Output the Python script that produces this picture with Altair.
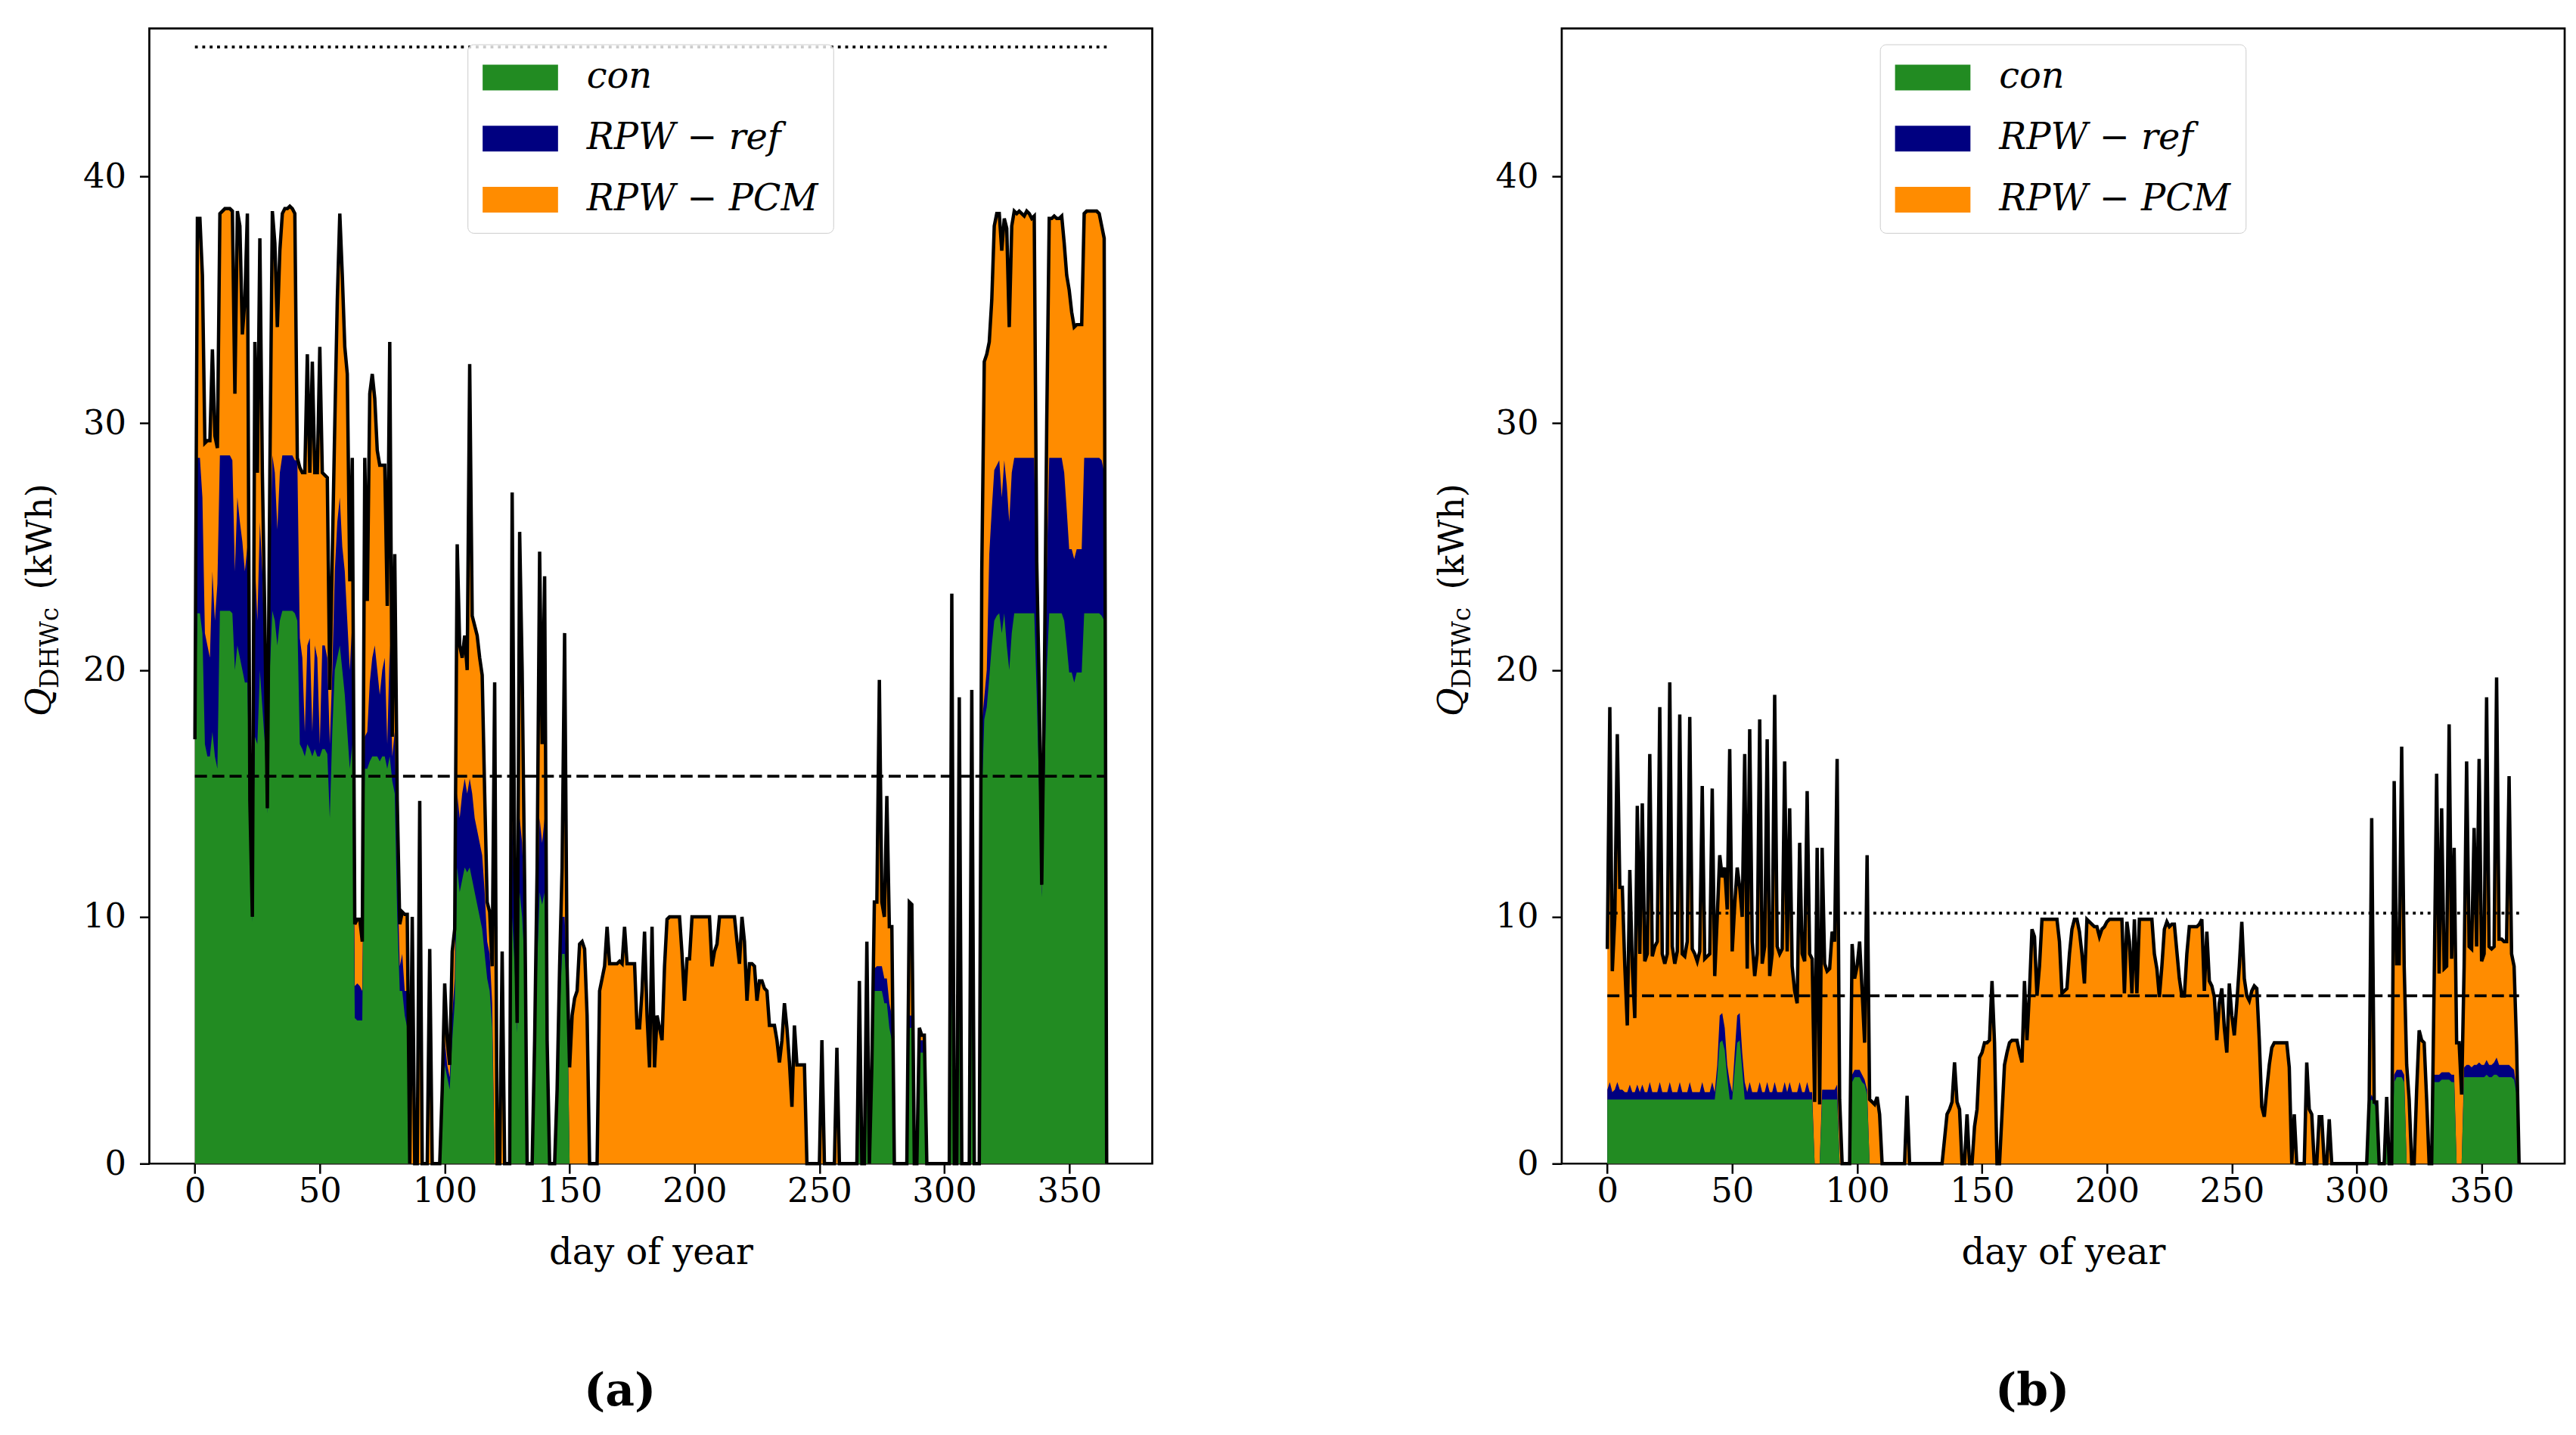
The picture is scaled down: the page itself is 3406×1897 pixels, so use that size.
import altair as alt
import pandas as pd

FONT = "DejaVu Serif"
SERIES = ["con", "RPW − ref", "RPW − PCM"]
COLORS = ["#228B22", "#000080", "#FF8C00"]
X_TICKS = [0, 50, 100, 150, 200, 250, 300, 350]
Y_TICKS = [0, 10, 20, 30, 40]
DAYS = list(range(366))

# ---------------- panel (a) ----------------
A_PCM = [
    17.2, 38.3, 38.3, 36.0, 29.2, 29.3, 29.3, 33.0, 29.5, 29.0,   # 0
    38.5, 38.6, 38.7, 38.7, 38.7, 38.6, 31.2, 38.6, 38.0, 33.6,   # 10
    35.0, 38.5, 14.7, 10.0, 33.3, 28.0, 37.5, 28.0, 22.0, 14.4,   # 20
    28.0, 38.6, 37.3, 33.9, 37.0, 38.5, 38.7, 38.7, 38.8, 38.7,   # 30
    38.5, 28.6, 28.2, 28.0, 28.0, 32.8, 28.0, 32.5, 28.0, 28.0,   # 40
    33.1, 28.0, 27.9, 27.8, 19.2, 24.7, 30.0, 35.0, 38.5, 36.0,   # 50
    33.1, 32.0, 23.6, 28.6, 9.7, 9.9, 9.9, 9.0, 28.6, 22.8,       # 60
    31.2, 32.0, 31.0, 28.9, 28.3, 28.3, 28.3, 22.6, 33.3, 17.3,   # 70
    24.7, 14.7, 9.7, 10.2, 10.1, 10.1, 0.0, 10.0, 0.0, 0.0,       # 80
    14.7, 0.0, 0.0, 0.0, 8.7, 0.0, 0.0, 0.0, 0.0, 3.0,            # 90
    7.3, 5.0, 4.0, 8.6, 9.5, 25.1, 21.0, 20.5, 21.4, 20.0,        # 100
    32.4, 22.2, 21.8, 21.4, 20.5, 19.8, 15.0, 10.6, 10.2, 8.0,    # 110
    19.5, 0.0, 0.0, 8.6, 0.0, 0.0, 0.0, 27.2, 12.0, 5.7,          # 120
    25.6, 20.0, 11.3, 0.0, 0.0, 0.0, 5.0, 12.0, 24.8, 17.0,       # 130
    23.8, 5.0, 0.0, 0.0, 0.0, 3.0, 8.0, 12.0, 21.5, 8.0,          # 140
    3.9, 6.0, 6.7, 7.0, 8.9, 9.0, 8.7, 6.0, 0.0, 0.0,             # 150
    0.0, 0.0, 7.0, 7.5, 8.0, 9.6, 8.1, 8.1, 8.1, 8.1,             # 160
    8.2, 8.1, 9.6, 8.1, 8.1, 8.1, 8.1, 5.5, 5.5, 7.0,             # 170
    9.4, 6.0, 3.9, 9.6, 3.9, 6.0, 5.5, 5.0, 8.0, 9.9,             # 180
    10.0, 10.0, 10.0, 10.0, 10.0, 8.5, 6.6, 8.3, 8.3, 10.0,       # 190
    10.0, 10.0, 10.0, 10.0, 10.0, 10.0, 10.0, 8.0, 8.6, 8.9,      # 200
    10.0, 10.0, 10.0, 10.0, 10.0, 10.0, 10.0, 9.0, 8.1, 10.0,     # 210
    9.0, 6.6, 8.1, 8.1, 8.0, 6.6, 7.4, 7.4, 7.1, 7.0,             # 220
    5.6, 5.6, 5.6, 5.0, 4.1, 5.0, 6.5, 5.5, 4.1, 2.3,             # 230
    5.6, 4.0, 4.0, 4.0, 4.0, 0.0, 0.0, 0.0, 0.0, 0.0,             # 240
    0.0, 5.0, 0.0, 0.0, 0.0, 0.0, 0.0, 4.7, 0.0, 0.0,             # 250
    0.0, 0.0, 0.0, 0.0, 0.0, 0.0, 7.4, 0.0, 0.0, 9.0,             # 260
    0.0, 4.0, 10.6, 10.6, 19.6, 10.6, 10.0, 14.9, 9.6, 9.6,       # 270
    0.0, 0.0, 0.0, 0.0, 0.0, 0.0, 10.6, 10.5, 0.0, 0.0,           # 280
    5.5, 5.2, 5.2, 0.0, 0.0, 0.0, 0.0, 0.0, 0.0, 0.0,             # 290
    0.0, 0.0, 0.0, 23.1, 0.0, 0.0, 18.9, 0.0, 0.0, 0.0,           # 300
    0.0, 19.2, 0.0, 0.0, 0.0, 24.0, 32.5, 32.8, 33.3, 35.0,       # 310
    38.0, 38.5, 38.5, 37.0, 38.3, 37.9, 33.9, 38.0, 38.6, 38.5,   # 320
    38.6, 38.5, 38.4, 38.6, 38.5, 38.3, 38.4, 24.4, 19.2, 11.3,   # 330
    19.0, 30.0, 38.3, 38.3, 38.4, 38.3, 38.3, 38.4, 37.3, 36.0,   # 340
    35.4, 34.5, 33.9, 34.0, 34.0, 34.0, 38.5, 38.6, 38.6, 38.6,   # 350
    38.6, 38.6, 38.5, 38.0, 37.5, 0.0,                            # 360
]
A_REF = [
    17.2, 28.6, 28.6, 27.0, 21.5, 21.0, 20.5, 24.0, 22.0, 23.5,   # 0
    28.7, 28.7, 28.7, 28.7, 28.7, 28.5, 24.0, 27.0, 26.0, 25.2,   # 10
    24.0, 25.0, 14.5, 9.9, 24.4, 22.0, 26.0, 24.0, 20.0, 14.3,    # 20
    24.0, 28.7, 28.0, 25.7, 28.0, 28.7, 28.7, 28.7, 28.7, 28.7,   # 30
    28.5, 28.5, 21.3, 20.5, 17.5, 21.0, 21.3, 17.5, 21.0, 20.5,   # 40
    17.0, 21.0, 21.0, 20.5, 17.0, 20.0, 24.0, 26.0, 27.0, 25.0,   # 50
    24.0, 22.0, 20.0, 22.0, 7.2, 7.3, 7.2, 7.0, 17.3, 17.5,       # 60
    19.5, 20.5, 21.0, 20.0, 19.0, 20.0, 20.5, 17.0, 21.0, 16.5,   # 70
    17.5, 12.0, 8.0, 8.5, 7.0, 7.0, 0.0, 0.0, 0.0, 0.0,           # 80
    0.0, 0.0, 0.0, 0.0, 0.0, 0.0, 0.0, 0.0, 0.0, 2.5,             # 90
    5.0, 4.0, 3.5, 6.0, 7.5, 15.0, 14.0, 15.0, 15.6, 15.0,        # 100
    15.6, 15.0, 14.0, 13.5, 13.0, 12.5, 11.0, 9.0, 8.5, 6.5,      # 110
    0.0, 0.0, 0.0, 0.0, 0.0, 0.0, 0.0, 14.0, 10.0, 5.5,           # 120
    14.0, 13.0, 10.0, 0.0, 0.0, 0.0, 4.5, 10.0, 14.0, 13.0,       # 130
    14.0, 4.5, 0.0, 0.0, 0.0, 2.5, 7.0, 10.0, 10.0, 7.5,          # 140
    0.0, 0.0, 0.0, 0.0, 0.0, 0.0, 0.0, 0.0, 0.0, 0.0,             # 150
    0.0, 0.0, 0.0, 0.0, 0.0, 0.0, 0.0, 0.0, 0.0, 0.0,             # 160
    0.0, 0.0, 0.0, 0.0, 0.0, 0.0, 0.0, 0.0, 0.0, 0.0,             # 170
    0.0, 0.0, 0.0, 0.0, 0.0, 0.0, 0.0, 0.0, 0.0, 0.0,             # 180
    0.0, 0.0, 0.0, 0.0, 0.0, 0.0, 0.0, 0.0, 0.0, 0.0,             # 190
    0.0, 0.0, 0.0, 0.0, 0.0, 0.0, 0.0, 0.0, 0.0, 0.0,             # 200
    0.0, 0.0, 0.0, 0.0, 0.0, 0.0, 0.0, 0.0, 0.0, 0.0,             # 210
    0.0, 0.0, 0.0, 0.0, 0.0, 0.0, 0.0, 0.0, 0.0, 0.0,             # 220
    0.0, 0.0, 0.0, 0.0, 0.0, 0.0, 0.0, 0.0, 0.0, 0.0,             # 230
    0.0, 0.0, 0.0, 0.0, 0.0, 0.0, 0.0, 0.0, 0.0, 0.0,             # 240
    0.0, 0.0, 0.0, 0.0, 0.0, 0.0, 0.0, 0.0, 0.0, 0.0,             # 250
    0.0, 0.0, 0.0, 0.0, 0.0, 0.0, 6.5, 0.0, 0.0, 7.0,             # 260
    0.0, 3.5, 7.9, 8.0, 8.0, 8.0, 7.5, 7.5, 6.5, 6.0,             # 270
    0.0, 0.0, 0.0, 0.0, 0.0, 0.0, 6.0, 6.0, 0.0, 0.0,             # 280
    5.0, 5.0, 5.0, 0.0, 0.0, 0.0, 0.0, 0.0, 0.0, 0.0,             # 290
    0.0, 0.0, 0.0, 8.0, 0.0, 0.0, 8.0, 0.0, 0.0, 0.0,             # 300
    0.0, 8.0, 0.0, 0.0, 0.0, 17.8, 18.9, 20.0, 24.7, 26.5,        # 310
    28.1, 28.3, 28.5, 27.0, 28.5, 27.5, 26.0, 28.0, 28.6, 28.6,   # 320
    28.6, 28.6, 28.6, 28.6, 28.6, 28.6, 28.6, 22.0, 17.0, 11.0,   # 330
    17.0, 24.0, 28.6, 28.6, 28.6, 28.6, 28.6, 28.6, 28.0, 26.5,   # 340
    24.9, 24.9, 24.5, 24.9, 24.9, 24.9, 28.6, 28.6, 28.6, 28.6,   # 350
    28.6, 28.6, 28.6, 28.5, 28.0, 0.0,                            # 360
]
A_CON = [
    17.2, 22.3, 22.3, 21.5, 17.0, 16.5, 16.5, 17.5, 16.5, 16.0,   # 0
    22.4, 22.4, 22.4, 22.4, 22.4, 22.3, 20.0, 21.0, 20.5, 20.0,   # 10
    19.5, 19.5, 14.0, 9.8, 17.3, 17.0, 20.0, 18.5, 17.0, 14.2,    # 20
    20.0, 22.4, 22.0, 21.0, 22.0, 22.4, 22.4, 22.4, 22.4, 22.4,   # 30
    22.3, 22.0, 17.0, 16.8, 16.5, 17.0, 16.8, 16.5, 16.8, 16.5,   # 40
    16.5, 16.8, 16.8, 16.6, 14.0, 17.5, 20.0, 20.5, 21.0, 20.0,   # 50
    19.0, 17.5, 16.0, 17.0, 5.9, 5.8, 5.8, 5.8, 16.0, 16.0,       # 60
    16.3, 16.5, 16.5, 16.5, 16.3, 16.5, 16.5, 16.0, 16.5, 15.5,   # 70
    15.0, 10.0, 7.0, 7.0, 6.0, 5.5, 0.0, 0.0, 0.0, 0.0,           # 80
    0.0, 0.0, 0.0, 0.0, 0.0, 0.0, 0.0, 0.0, 0.0, 2.0,             # 90
    4.0, 3.5, 3.0, 5.0, 6.5, 12.0, 11.0, 11.5, 12.0, 11.8,        # 100
    12.0, 11.5, 11.0, 10.5, 10.0, 9.5, 8.5, 7.5, 7.0, 5.5,        # 110
    0.0, 0.0, 0.0, 0.0, 0.0, 0.0, 0.0, 10.0, 8.0, 5.3,            # 120
    11.0, 10.0, 8.0, 0.0, 0.0, 0.0, 4.0, 8.0, 11.0, 10.5,         # 130
    11.0, 4.0, 0.0, 0.0, 0.0, 2.0, 6.0, 8.5, 8.5, 7.0,            # 140
    0.0, 0.0, 0.0, 0.0, 0.0, 0.0, 0.0, 0.0, 0.0, 0.0,             # 150
    0.0, 0.0, 0.0, 0.0, 0.0, 0.0, 0.0, 0.0, 0.0, 0.0,             # 160
    0.0, 0.0, 0.0, 0.0, 0.0, 0.0, 0.0, 0.0, 0.0, 0.0,             # 170
    0.0, 0.0, 0.0, 0.0, 0.0, 0.0, 0.0, 0.0, 0.0, 0.0,             # 180
    0.0, 0.0, 0.0, 0.0, 0.0, 0.0, 0.0, 0.0, 0.0, 0.0,             # 190
    0.0, 0.0, 0.0, 0.0, 0.0, 0.0, 0.0, 0.0, 0.0, 0.0,             # 200
    0.0, 0.0, 0.0, 0.0, 0.0, 0.0, 0.0, 0.0, 0.0, 0.0,             # 210
    0.0, 0.0, 0.0, 0.0, 0.0, 0.0, 0.0, 0.0, 0.0, 0.0,             # 220
    0.0, 0.0, 0.0, 0.0, 0.0, 0.0, 0.0, 0.0, 0.0, 0.0,             # 230
    0.0, 0.0, 0.0, 0.0, 0.0, 0.0, 0.0, 0.0, 0.0, 0.0,             # 240
    0.0, 0.0, 0.0, 0.0, 0.0, 0.0, 0.0, 0.0, 0.0, 0.0,             # 250
    0.0, 0.0, 0.0, 0.0, 0.0, 0.0, 6.0, 0.0, 0.0, 6.0,             # 260
    0.0, 3.0, 7.0, 7.0, 7.0, 7.0, 6.5, 6.5, 5.5, 5.0,             # 270
    0.0, 0.0, 0.0, 0.0, 0.0, 0.0, 5.5, 5.5, 0.0, 0.0,             # 280
    4.5, 4.5, 4.5, 0.0, 0.0, 0.0, 0.0, 0.0, 0.0, 0.0,             # 290
    0.0, 0.0, 0.0, 7.0, 0.0, 0.0, 7.0, 0.0, 0.0, 0.0,             # 300
    0.0, 7.0, 0.0, 0.0, 0.0, 14.7, 18.0, 18.5, 19.7, 21.0,        # 310
    22.0, 22.2, 22.3, 21.5, 22.3, 21.0, 20.0, 21.5, 22.3, 22.3,   # 320
    22.3, 22.3, 22.3, 22.3, 22.3, 22.3, 22.3, 19.0, 15.0, 10.8,   # 330
    15.0, 20.0, 22.3, 22.3, 22.3, 22.3, 22.3, 22.3, 22.0, 21.0,   # 340
    19.9, 19.9, 19.5, 19.9, 19.9, 19.9, 22.3, 22.3, 22.3, 22.3,   # 350
    22.3, 22.3, 22.3, 22.2, 22.0, 0.0,                            # 360
]
A_DASHED = 15.7
A_DOTTED = 45.25

# ---------------- panel (b) ----------------
B_PCM = [
    8.7, 18.5, 7.8, 10.0, 17.4, 11.2, 11.2, 8.0, 5.6, 11.9,       # 0
    8.0, 5.9, 14.5, 8.5, 14.6, 8.2, 8.5, 16.6, 8.4, 8.8,          # 10
    9.0, 18.5, 8.5, 8.1, 8.5, 19.5, 8.8, 8.1, 8.6, 18.2,          # 20
    8.5, 8.4, 9.0, 18.1, 8.7, 8.5, 8.2, 8.6, 15.3, 8.3,           # 30
    8.4, 8.5, 15.2, 7.6, 10.0, 12.5, 11.6, 12.0, 10.3, 16.8,      # 40
    8.6, 10.5, 12.0, 11.2, 10.0, 16.6, 7.9, 17.6, 9.0, 7.6,       # 50
    8.5, 18.0, 8.1, 8.8, 17.2, 7.6, 8.5, 19.0, 8.8, 8.5,          # 60
    8.7, 16.3, 8.6, 14.4, 8.0, 7.0, 6.5, 13.0, 8.5, 8.2,          # 70
    15.1, 8.5, 8.3, 2.5, 12.8, 2.4, 12.8, 8.1, 7.8, 7.9,          # 80
    9.4, 9.0, 16.4, 2.6, 0.0, 0.0, 0.0, 0.0, 8.9, 7.5,            # 90
    8.0, 9.0, 7.0, 4.9, 12.5, 2.6, 2.5, 2.4, 2.7, 2.0,            # 100
    0.0, 0.0, 0.0, 0.0, 0.0, 0.0, 0.0, 0.0, 0.0, 0.0,             # 110
    2.75, 0.0, 0.0, 0.0, 0.0, 0.0, 0.0, 0.0, 0.0, 0.0,            # 120
    0.0, 0.0, 0.0, 0.0, 0.0, 1.0, 2.0, 2.2, 2.5, 4.1,             # 130
    2.5, 2.2, 0.0, 0.0, 2.0, 0.0, 0.0, 1.5, 2.2, 4.3,             # 140
    4.5, 4.9, 4.9, 5.0, 7.4, 4.9, 0.0, 0.0, 2.0, 4.0,             # 150
    4.5, 4.9, 5.0, 5.0, 5.0, 4.5, 4.1, 7.4, 5.0, 7.0,             # 160
    9.5, 9.2, 6.8, 8.0, 9.9, 9.9, 9.9, 9.9, 9.9, 9.9,             # 170
    9.9, 9.0, 6.9, 7.0, 7.1, 8.5, 9.5, 9.9, 9.9, 9.4,             # 180
    8.5, 7.3, 9.9, 9.8, 9.7, 9.6, 9.6, 9.2, 9.5, 9.6,             # 190
    9.8, 9.9, 9.9, 9.9, 9.9, 9.9, 9.9, 6.9, 9.8, 9.0,             # 200
    6.9, 9.9, 6.9, 9.9, 9.9, 9.9, 9.9, 9.9, 9.9, 8.5,             # 210
    7.9, 6.75, 8.0, 9.5, 9.8, 9.6, 9.7, 9.7, 8.6, 7.5,            # 220
    6.8, 6.8, 8.5, 9.6, 9.6, 9.6, 9.6, 9.7, 9.9, 7.0,             # 230
    9.4, 7.4, 7.2, 6.75, 5.0, 6.5, 7.1, 5.5, 4.5, 7.3,            # 240
    6.0, 5.2, 6.5, 8.0, 9.8, 7.5, 6.8, 6.6, 7.0, 7.2,             # 250
    7.1, 5.0, 2.3, 1.9, 3.0, 4.0, 4.7, 4.9, 4.9, 4.9,             # 260
    4.9, 4.9, 4.9, 3.9, 0.0, 2.0, 0.0, 0.0, 0.0, 0.0,             # 270
    4.1, 2.2, 2.0, 0.0, 0.0, 1.9, 1.9, 0.0, 0.0, 1.8,             # 280
    0.0, 0.0, 0.0, 0.0, 0.0, 0.0, 0.0, 0.0, 0.0, 0.0,             # 290
    0.0, 0.0, 0.0, 0.0, 0.0, 2.6, 14.0, 2.5, 2.5, 0.0,            # 300
    0.0, 0.0, 2.7, 0.0, 0.0, 15.5, 8.1, 8.1, 16.9, 8.0,           # 310
    4.0, 2.6, 0.0, 0.0, 3.0, 5.4, 5.0, 4.9, 2.6, 0.0,             # 320
    0.0, 7.3, 15.8, 7.7, 14.4, 7.9, 8.0, 17.8, 8.3, 12.8,         # 330
    4.9, 4.9, 2.8, 8.0, 16.3, 8.8, 8.7, 13.6, 8.8, 16.4,          # 340
    8.2, 8.5, 18.9, 8.8, 8.7, 8.8, 19.7, 9.1, 9.1, 9.0,           # 350
    9.0, 15.7, 8.5, 8.0, 4.8, 0.0,                                # 360
]
B_REF = [
    3.0, 3.3, 2.9, 3.0, 3.3, 3.0, 3.0, 2.9, 2.9, 3.2,             # 0
    2.9, 2.9, 3.2, 2.9, 3.2, 2.9, 2.9, 3.3, 2.9, 2.9,             # 10
    2.9, 3.3, 2.9, 2.9, 2.9, 3.3, 2.9, 2.9, 2.9, 3.3,             # 20
    2.9, 2.9, 2.9, 3.3, 2.9, 2.9, 2.9, 2.9, 3.3, 2.9,             # 30
    2.9, 2.9, 3.3, 2.9, 4.0, 6.0, 6.1, 5.5, 4.0, 3.3,             # 40
    2.9, 4.5, 6.0, 6.1, 4.5, 3.3, 2.9, 3.3, 2.9, 2.9,             # 50
    2.9, 3.3, 2.9, 2.9, 3.3, 2.9, 2.9, 3.3, 2.9, 2.9,             # 60
    2.9, 3.3, 2.9, 3.3, 2.9, 2.9, 2.9, 3.3, 2.9, 2.9,             # 70
    3.3, 2.9, 2.9, 0.0, 0.0, 0.0, 3.0, 3.0, 3.0, 3.0,             # 80
    3.0, 3.0, 3.2, 0.0, 0.0, 0.0, 0.0, 0.0, 3.6, 3.8,             # 90
    3.8, 3.8, 3.6, 3.4, 3.0, 0.0, 0.0, 0.0, 0.0, 0.0,             # 100
    0.0, 0.0, 0.0, 0.0, 0.0, 0.0, 0.0, 0.0, 0.0, 0.0,             # 110
    0.0, 0.0, 0.0, 0.0, 0.0, 0.0, 0.0, 0.0, 0.0, 0.0,             # 120
    0.0, 0.0, 0.0, 0.0, 0.0, 0.0, 0.0, 0.0, 0.0, 0.0,             # 130
    0.0, 0.0, 0.0, 0.0, 0.0, 0.0, 0.0, 0.0, 0.0, 0.0,             # 140
    0.0, 0.0, 0.0, 0.0, 0.0, 0.0, 0.0, 0.0, 0.0, 0.0,             # 150
    0.0, 0.0, 0.0, 0.0, 0.0, 0.0, 0.0, 0.0, 0.0, 0.0,             # 160
    0.0, 0.0, 0.0, 0.0, 0.0, 0.0, 0.0, 0.0, 0.0, 0.0,             # 170
    0.0, 0.0, 0.0, 0.0, 0.0, 0.0, 0.0, 0.0, 0.0, 0.0,             # 180
    0.0, 0.0, 0.0, 0.0, 0.0, 0.0, 0.0, 0.0, 0.0, 0.0,             # 190
    0.0, 0.0, 0.0, 0.0, 0.0, 0.0, 0.0, 0.0, 0.0, 0.0,             # 200
    0.0, 0.0, 0.0, 0.0, 0.0, 0.0, 0.0, 0.0, 0.0, 0.0,             # 210
    0.0, 0.0, 0.0, 0.0, 0.0, 0.0, 0.0, 0.0, 0.0, 0.0,             # 220
    0.0, 0.0, 0.0, 0.0, 0.0, 0.0, 0.0, 0.0, 0.0, 0.0,             # 230
    0.0, 0.0, 0.0, 0.0, 0.0, 0.0, 0.0, 0.0, 0.0, 0.0,             # 240
    0.0, 0.0, 0.0, 0.0, 0.0, 0.0, 0.0, 0.0, 0.0, 0.0,             # 250
    0.0, 0.0, 0.0, 0.0, 0.0, 0.0, 0.0, 0.0, 0.0, 0.0,             # 260
    0.0, 0.0, 0.0, 0.0, 0.0, 0.0, 0.0, 0.0, 0.0, 0.0,             # 270
    0.0, 0.0, 0.0, 0.0, 0.0, 0.0, 0.0, 0.0, 0.0, 0.0,             # 280
    0.0, 0.0, 0.0, 0.0, 0.0, 0.0, 0.0, 0.0, 0.0, 0.0,             # 290
    0.0, 0.0, 0.0, 0.0, 0.0, 2.6, 2.8, 2.5, 2.4, 0.0,             # 300
    0.0, 0.0, 2.7, 0.0, 0.0, 3.6, 3.8, 3.8, 3.8, 3.6,             # 310
    0.0, 0.0, 0.0, 0.0, 0.0, 0.0, 0.0, 0.0, 0.0, 0.0,             # 320
    0.0, 3.6, 3.6, 3.6, 3.7, 3.7, 3.7, 3.7, 3.6, 3.6,             # 330
    0.0, 0.0, 0.0, 3.9, 4.0, 4.0, 3.9, 4.0, 4.0, 4.1,             # 340
    4.0, 4.0, 4.2, 4.0, 4.0, 4.1, 4.3, 4.0, 4.0, 4.0,             # 350
    4.0, 4.0, 3.9, 3.8, 3.0, 0.0,                                 # 360
]
B_CON = [
    2.6, 2.6, 2.6, 2.6, 2.6, 2.6, 2.6, 2.6, 2.6, 2.6,             # 0
    2.6, 2.6, 2.6, 2.6, 2.6, 2.6, 2.6, 2.6, 2.6, 2.6,             # 10
    2.6, 2.6, 2.6, 2.6, 2.6, 2.6, 2.6, 2.6, 2.6, 2.6,             # 20
    2.6, 2.6, 2.6, 2.6, 2.6, 2.6, 2.6, 2.6, 2.6, 2.6,             # 30
    2.6, 2.6, 2.6, 2.6, 3.5, 4.9, 5.0, 4.6, 3.5, 2.6,             # 40
    2.6, 3.8, 4.9, 5.0, 3.8, 2.6, 2.6, 2.6, 2.6, 2.6,             # 50
    2.6, 2.6, 2.6, 2.6, 2.6, 2.6, 2.6, 2.6, 2.6, 2.6,             # 60
    2.6, 2.6, 2.6, 2.6, 2.6, 2.6, 2.6, 2.6, 2.6, 2.6,             # 70
    2.6, 2.6, 2.6, 0.0, 0.0, 0.0, 2.6, 2.6, 2.6, 2.6,             # 80
    2.6, 2.6, 2.6, 0.0, 0.0, 0.0, 0.0, 0.0, 3.3, 3.5,             # 90
    3.5, 3.5, 3.3, 3.2, 2.8, 0.0, 0.0, 0.0, 0.0, 0.0,             # 100
    0.0, 0.0, 0.0, 0.0, 0.0, 0.0, 0.0, 0.0, 0.0, 0.0,             # 110
    0.0, 0.0, 0.0, 0.0, 0.0, 0.0, 0.0, 0.0, 0.0, 0.0,             # 120
    0.0, 0.0, 0.0, 0.0, 0.0, 0.0, 0.0, 0.0, 0.0, 0.0,             # 130
    0.0, 0.0, 0.0, 0.0, 0.0, 0.0, 0.0, 0.0, 0.0, 0.0,             # 140
    0.0, 0.0, 0.0, 0.0, 0.0, 0.0, 0.0, 0.0, 0.0, 0.0,             # 150
    0.0, 0.0, 0.0, 0.0, 0.0, 0.0, 0.0, 0.0, 0.0, 0.0,             # 160
    0.0, 0.0, 0.0, 0.0, 0.0, 0.0, 0.0, 0.0, 0.0, 0.0,             # 170
    0.0, 0.0, 0.0, 0.0, 0.0, 0.0, 0.0, 0.0, 0.0, 0.0,             # 180
    0.0, 0.0, 0.0, 0.0, 0.0, 0.0, 0.0, 0.0, 0.0, 0.0,             # 190
    0.0, 0.0, 0.0, 0.0, 0.0, 0.0, 0.0, 0.0, 0.0, 0.0,             # 200
    0.0, 0.0, 0.0, 0.0, 0.0, 0.0, 0.0, 0.0, 0.0, 0.0,             # 210
    0.0, 0.0, 0.0, 0.0, 0.0, 0.0, 0.0, 0.0, 0.0, 0.0,             # 220
    0.0, 0.0, 0.0, 0.0, 0.0, 0.0, 0.0, 0.0, 0.0, 0.0,             # 230
    0.0, 0.0, 0.0, 0.0, 0.0, 0.0, 0.0, 0.0, 0.0, 0.0,             # 240
    0.0, 0.0, 0.0, 0.0, 0.0, 0.0, 0.0, 0.0, 0.0, 0.0,             # 250
    0.0, 0.0, 0.0, 0.0, 0.0, 0.0, 0.0, 0.0, 0.0, 0.0,             # 260
    0.0, 0.0, 0.0, 0.0, 0.0, 0.0, 0.0, 0.0, 0.0, 0.0,             # 270
    0.0, 0.0, 0.0, 0.0, 0.0, 0.0, 0.0, 0.0, 0.0, 0.0,             # 280
    0.0, 0.0, 0.0, 0.0, 0.0, 0.0, 0.0, 0.0, 0.0, 0.0,             # 290
    0.0, 0.0, 0.0, 0.0, 0.0, 2.5, 2.6, 2.4, 2.3, 0.0,             # 300
    0.0, 0.0, 2.6, 0.0, 0.0, 3.3, 3.5, 3.5, 3.5, 3.3,             # 310
    0.0, 0.0, 0.0, 0.0, 0.0, 0.0, 0.0, 0.0, 0.0, 0.0,             # 320
    0.0, 3.3, 3.3, 3.3, 3.4, 3.4, 3.4, 3.4, 3.3, 3.3,             # 330
    0.0, 0.0, 0.0, 3.5, 3.5, 3.5, 3.5, 3.5, 3.5, 3.5,             # 340
    3.5, 3.5, 3.6, 3.5, 3.5, 3.6, 3.6, 3.5, 3.5, 3.5,             # 350
    3.5, 3.5, 3.5, 3.4, 2.8, 0.0,                                 # 360
]
B_DASHED = 6.8
B_DOTTED = 10.15

W, H = 1330, 1505


def text_mark(txt, x, y, size, style="normal", weight="normal", angle=0,
              align="left", baseline="alphabetic"):
    return alt.Chart(pd.DataFrame({"t": [txt]})).mark_text(
        font=FONT, fontSize=size, fontStyle=style, fontWeight=weight,
        angle=angle, align=align, baseline=baseline, color="black"
    ).encode(x=alt.value(x), y=alt.value(y), text="t:N")


def panel(pcm, ref, con, dashed, dotted, caption):
    assert len(pcm) == len(ref) == len(con) == len(DAYS)
    df = pd.DataFrame({"day": DAYS, "pcm": pcm, "ref": ref, "con": con})
    xs = alt.Scale(domain=[-18.25, 383.25], nice=False, zero=False)
    ys = alt.Scale(domain=[0, 46], nice=False)
    xax = alt.Axis(values=X_TICKS, title="day of year", labelPadding=1,
                   titlePadding=36, format="d")
    yax = alt.Axis(values=Y_TICKS, title=None, labelPadding=18, format="d")
    cscale = alt.Scale(domain=SERIES, range=COLORS)
    legend = alt.Legend(
        title=None, orient="none", legendX=422, legendY=21,
        direction="vertical",
        symbolType="M-2.083,-0.708H2.083V0.708H-2.083Z",
        symbolSize=2304, symbolOffset=26, symbolStrokeWidth=0,
        symbolOpacity=1,
        labelFont=FONT, labelFontStyle="italic", labelFontSize=48,
        labelColor="black", labelOffset=64, labelLimit=0,
        padding=20, rowPadding=33,
        strokeColor="#cccccc", fillColor="rgba(255,255,255,0.8)",
        cornerRadius=8,
    )
    base = alt.Chart(df)

    def area(field, name):
        return base.transform_calculate(series=f"'{name}'").mark_area(
            opacity=1, strokeWidth=0
        ).encode(
            x=alt.X("day:Q", scale=xs, axis=xax),
            y=alt.Y(f"{field}:Q", scale=ys, axis=yax),
            color=alt.Color("series:N", scale=cscale, legend=legend),
        )

    outline = base.mark_line(color="black", strokeWidth=4.5).encode(
        x=alt.X("day:Q", scale=xs, axis=xax),
        y=alt.Y("pcm:Q", scale=ys, axis=yax),
    )
    hl = pd.DataFrame({"x0": [0], "x1": [365], "y_dash": [dashed], "y_dot": [dotted]})
    dash_rule = alt.Chart(hl).mark_rule(
        color="black", strokeWidth=3.8, strokeDash=[16, 7]
    ).encode(x="x0:Q", x2="x1:Q", y="y_dash:Q")
    dot_rule = alt.Chart(hl).mark_rule(
        color="black", strokeWidth=3.8, strokeDash=[3.8, 6]
    ).encode(x="x0:Q", x2="x1:Q", y="y_dot:Q")

    layers = [
        area("pcm", SERIES[2]),
        area("ref", SERIES[1]),
        area("con", SERIES[0]),
        outline,
        dash_rule,
        dot_rule,
        text_mark("Q", -131, 912, 46, style="italic", angle=270),
        text_mark("DHWc", -121, 875, 33, angle=270),
        text_mark("(kWh)", -130, 744, 46, angle=270),
        text_mark(caption, 624, 1808, 60, weight="bold", align="center",
                  baseline="middle"),
    ]
    return alt.layer(*layers).properties(width=W, height=H)


pa = panel(A_PCM, A_REF, A_CON, A_DASHED, A_DOTTED, "(a)")
pb = panel(B_PCM, B_REF, B_CON, B_DASHED, B_DOTTED, "(b)")

chart = alt.hconcat(pa, pb, spacing=371).resolve_scale(
    color="independent"
).resolve_legend(color="independent").properties(
    padding={"left": 20, "top": 25, "right": 5, "bottom": 5}
).configure_view(
    stroke="black", strokeWidth=2.7
).configure_axis(
    domain=False, grid=False, tickColor="black", tickWidth=2.5, tickSize=13,
    labelFont=FONT, labelFontSize=45, labelColor="black",
    titleFont=FONT, titleFontSize=48, titleColor="black",
    titleFontWeight="normal",
)

chart.save("out.html", embed_options={"renderer": "svg", "actions": False})
